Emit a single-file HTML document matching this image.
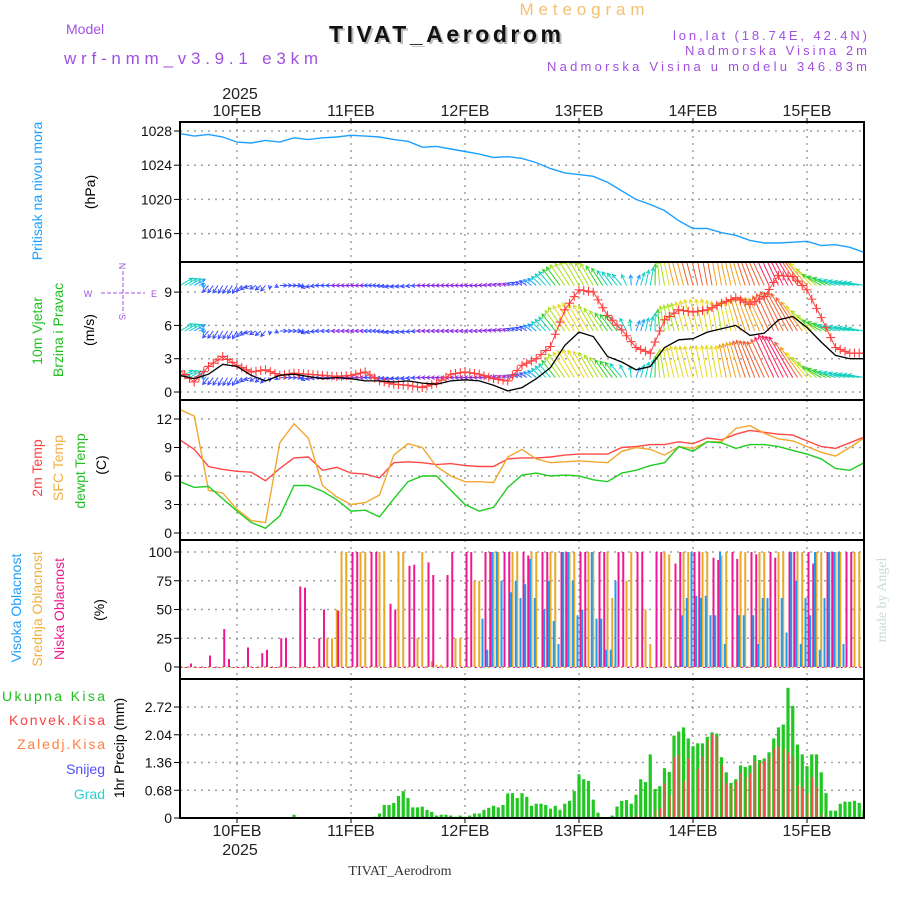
<!DOCTYPE html>
<html><head><meta charset="utf-8"><style>
html,body{margin:0;padding:0;background:#fff;}
svg{display:block;font-family:"Liberation Sans",sans-serif;}
</style></head><body>
<svg id="chart" width="900" height="900" viewBox="0 0 900 900">
<text x="582" y="15" font-size="17" fill="#f5c070" text-anchor="middle" textLength="125">Meteogram</text>
<text x="66" y="34" font-size="14" fill="#a050e0">Model</text>
<text x="64" y="64" font-size="17" fill="#a050e0" textLength="254">wrf-nmm_v3.9.1 e3km</text>
<text x="447" y="44" font-size="23" font-weight="bold" fill="#bbb" text-anchor="middle" textLength="232" font-family="Liberation Sans, sans-serif">TIVAT_Aerodrom</text>
<text x="445" y="42" font-size="23" font-weight="bold" fill="#111" text-anchor="middle" textLength="232">TIVAT_Aerodrom</text>
<text x="867" y="40" font-size="13" fill="#a050e0" text-anchor="end" textLength="194">lon,lat (18.74E, 42.4N)</text>
<text x="867" y="55" font-size="13" fill="#a050e0" text-anchor="end" textLength="182">Nadmorska Visina 2m</text>
<text x="867" y="71" font-size="13" fill="#a050e0" text-anchor="end" textLength="320">Nadmorska Visina u modelu 346.83m</text>
<text x="240" y="99" font-size="16" fill="#222" text-anchor="middle">2025</text>
<text x="240" y="855" font-size="16" fill="#222" text-anchor="middle">2025</text>
<text x="400" y="875" font-size="14" fill="#333" text-anchor="middle" font-family="Liberation Serif, serif">TIVAT_Aerodrom</text>
<text transform="translate(886,600) rotate(-90)" font-size="14" fill="#c8dcd0" text-anchor="middle" font-family="Liberation Serif, serif">made by Angel</text>

<text transform="translate(42,191) rotate(-90)" font-size="14" fill="#1ea0ff" text-anchor="middle">Pritisak na nivou mora</text>
<text transform="translate(95,192) rotate(-90)" font-size="14" fill="#000" text-anchor="middle">(hPa)</text>
<text transform="translate(42,331) rotate(-90)" font-size="14" fill="#22c022" text-anchor="middle">10m Vjetar</text>
<text transform="translate(63,330) rotate(-90)" font-size="14" fill="#22c022" text-anchor="middle">Brzina i Pravac</text>
<text transform="translate(94,330) rotate(-90)" font-size="14" fill="#000" text-anchor="middle">(m/s)</text>
<g fill="#a050e0" stroke="#a050e0" font-size="9">
<line x1="123" y1="271" x2="123" y2="314" stroke-dasharray="4,2"/>
<line x1="101" y1="293" x2="145" y2="293" stroke-dasharray="4,2"/>
<text x="123" y="270" text-anchor="middle" stroke="none" transform="rotate(90,123,266)">N</text>
<text x="123" y="321" text-anchor="middle" stroke="none" transform="rotate(90,123,317)">S</text>
<text x="88" y="297" text-anchor="middle" stroke="none">W</text>
<text x="154" y="297" text-anchor="middle" stroke="none">E</text>
</g>
<text transform="translate(42,468) rotate(-90)" font-size="14" fill="#ff4040" text-anchor="middle">2m Temp</text>
<text transform="translate(63,468) rotate(-90)" font-size="14" fill="#f0b040" text-anchor="middle">SFC Temp</text>
<text transform="translate(85,471) rotate(-90)" font-size="14" fill="#22c022" text-anchor="middle">dewpt Temp</text>
<text transform="translate(106,465) rotate(-90)" font-size="14" fill="#000" text-anchor="middle">(C)</text>
<text transform="translate(21,608) rotate(-90)" font-size="14" fill="#1ea0ff" text-anchor="middle">Visoka Oblacnost</text>
<text transform="translate(42,609) rotate(-90)" font-size="14" fill="#f0b040" text-anchor="middle">Srednja Oblacnost</text>
<text transform="translate(64,609) rotate(-90)" font-size="14" fill="#f01890" text-anchor="middle">Niska Oblacnost</text>
<text transform="translate(104,610) rotate(-90)" font-size="14" fill="#000" text-anchor="middle">(%)</text>
<g font-size="14" text-anchor="end">
<text x="105" y="701" fill="#22c022" textLength="103">Ukupna Kisa</text>
<text x="105" y="725" fill="#ff4040" textLength="96">Konvek.Kisa</text>
<text x="105" y="749" fill="#ff8040" textLength="88">Zaledj.Kisa</text>
<text x="105" y="774" fill="#5050ff">Snijeg</text>
<text x="105" y="799" fill="#30d0d0">Grad</text>
</g>
<text transform="translate(124,748) rotate(-90)" font-size="14" fill="#000" text-anchor="middle">1hr Precip (mm)</text>
<g id="plots"></g>
</svg>
<script>
// ---- data (hours from 9FEB 12:00) ----
const dayLabels = ["10FEB","11FEB","12FEB","13FEB","14FEB","15FEB"];
const pressTicks = [1016,1020,1024,1028];
const windTicks = [0,3,6,9];
const tempTicks = [0,3,6,9,12];
const cloudTicks = [0,25,50,75,100];
const precipTicks = [0,0.68,1.36,2.04,2.72];
// 3-hourly series (49 points)
const pressure = [1027.7,1027.4,1027.6,1027.3,1026.7,1026.6,1026.9,1026.7,1027.2,1027.0,1027.2,1027.3,1027.5,1027.4,1027.3,1027.0,1026.8,1026.1,1026.2,1025.9,1025.6,1025.3,1024.9,1025.0,1024.8,1024.3,1023.6,1023.1,1022.9,1022.7,1022.0,1021.0,1020.0,1019.4,1018.7,1017.5,1016.6,1016.6,1016.1,1015.8,1015.2,1014.9,1014.9,1015.0,1015.1,1014.6,1014.7,1014.4,1013.8];
const temp2m = [9.8,8.8,7.0,6.7,6.5,6.4,5.5,6.8,7.9,8.0,6.6,6.9,6.3,6.2,5.8,7.4,7.5,7.4,7.2,7.3,7.1,7.0,7.0,7.8,7.9,7.9,8.0,8.2,8.3,8.3,8.3,9.0,9.1,9.3,9.3,9.6,9.4,10.0,9.8,10.4,10.8,10.6,10.4,10.3,9.7,9.1,8.9,9.5,10.1];
const tempSfc = [13.0,12.3,4.5,4.2,2.5,1.3,1.1,9.5,11.5,10.0,5.0,3.8,3.0,3.2,4.0,8.2,9.4,9.0,7.0,6.0,5.4,5.4,5.3,8.0,8.8,7.8,7.4,7.5,7.6,7.5,7.4,8.6,9.0,8.8,8.2,9.1,8.9,9.6,9.6,11.0,11.3,10.5,9.9,9.7,9.1,8.5,8.1,9.0,10.0];
const dewpt = [5.4,4.8,4.9,3.6,2.3,1.1,0.5,1.8,5.0,5.0,4.4,3.5,2.3,2.4,1.7,3.6,5.4,6.0,6.0,4.5,3.0,2.3,2.7,4.8,6.1,6.3,6.0,6.1,6.0,5.6,5.4,6.3,6.6,7.1,7.4,9.1,8.6,9.6,9.5,8.9,9.3,9.3,9.1,8.7,8.3,7.8,6.8,6.6,7.4];
const windSpeed = [1.5,1.2,1.6,2.5,2.3,1.5,1.0,1.5,1.6,1.4,1.2,1.3,1.2,1.0,1.0,0.9,1.0,0.8,0.7,1.0,1.1,1.0,0.6,0.1,0.4,1.2,2.2,4.2,5.4,5.0,3.2,2.7,2.0,2.3,4.0,4.7,4.8,5.4,5.7,6.0,5.1,5.3,6.5,6.8,5.8,4.5,3.3,3.0,3.0];
const windGust = [1.9,0.9,2.3,3.2,2.4,1.8,2.0,1.5,1.7,1.6,1.5,1.4,1.5,1.8,1.0,0.7,0.6,0.4,0.8,1.6,1.8,1.6,1.2,1.0,2.4,3.0,4.1,7.4,9.2,9.0,6.9,5.6,4.0,3.5,6.5,7.4,7.2,7.4,8.0,8.5,7.9,8.6,10.5,10.4,9.2,6.7,4.0,3.5,3.5];
const windDir = [30,30,230,240,240,200,230,0,0,200,180,180,180,180,180,190,190,180,180,180,180,180,170,160,150,140,130,125,120,120,125,130,70,80,100,105,105,100,100,105,110,115,115,120,130,150,160,165,170];
const spdTop = [4,3.5,2.5,2.5,2.5,2,2,2,2,2,2,1.5,1.5,1.5,2,2.5,2,1.5,1.5,1.5,1.5,1.5,1.5,1.5,2,3,5,7,8,7,5,4,3,5,8,10,11,11,10,10,11,12,13,13,10,6,5,4.5,4.5];
const spdMid = [4,3.5,2.5,2.5,2.5,2,2,2,2,2,2,1.5,1.5,1.5,2,2.5,2,1.5,1.5,1.5,1.5,1.5,1.5,1.5,2,3,5,8,9,8,6,5,3,4,7,8,9,9,8,9,10,10,12,12,9,6,5,4.5,4.5];
const spdLow = [4,3.5,2.5,2.5,2.5,2,2,2,2,2,2,1.5,1.5,1.5,2,2.5,2,1.5,1.5,1.5,1.5,1.5,1.5,1.5,2,3,5,8,9,8,6,5,3,5,8,9,9,9,9,10,11,11,13,13,9,6,5,4.5,4.5];
const rowBase = [9.6,5.5,1.3];
// hourly series (145 points)
const cloudLow = [0,0,3,0,0,0,10,0,0,33,7,0, 0,0,17,0,0,12,15,0,0,25,25,0, 0,70,69,0,0,25,50,0,0,49,0,0, 100,100,0,0,100,100,0,0,55,50,0,0, 88,89,0,0,91,80,0,0,80,100,0,0, 100,100,0,0,100,100,0,0,100,100,0,0, 100,97,0,0,100,100,0,0,100,100,0,0, 100,100,0,0,100,100,0,0,100,100,0,0, 100,100,0,0,100,100,0,0,90,100,0,0, 100,100,0,0,95,93,0,0,100,94,0,0, 100,98,0,0,100,95,0,0,100,100,0,0, 100,90,0,0,100,100,0,0,100,100,0,0, 100];
const cloudMid = [0,0,0,0,0,0,0,0,0,0,0,0, 0,0,0,0,0,0,0,0,0,0,0,0, 0,0,0,0,0,0,0,25,25,50,100,100, 0,0,100,100,0,0,100,100,0,0,100,100, 0,0,25,100,0,5,2,2,0,0,25,25, 0,0,75,75,0,0,100,100,0,0,100,100, 0,0,100,100,0,0,100,100,0,0,100,100, 0,0,100,100,0,0,100,60,0,0,75,100, 0,0,50,20,0,0,100,98,0,0,100,100, 0,0,100,100,0,0,97,100,0,0,100,100, 0,0,100,100,0,0,100,100,0,0,100,100, 0,0,100,100,0,0,100,100,0,0,100,100, 0];
const cloudHigh = [0,0,0,0,0,0,0,0,0,0,0,0, 0,0,0,0,0,0,0,0,0,0,0,0, 0,0,0,0,0,0,0,0,0,0,0,0, 0,0,0,0,0,0,0,0,0,0,0,0, 0,0,0,0,0,0,0,0,0,0,0,0, 0,0,0,0,42,15,100,100,75,0,65,75, 60,72,94,60,0,50,75,40,20,100,100,75, 45,50,0,100,42,42,15,15,75,0,0,0, 0,0,0,0,0,0,0,0,0,1,45,60, 100,62,60,62,45,45,100,20,0,0,45,45, 0,45,20,60,60,0,0,60,30,100,75,20, 60,45,100,15,60,100,100,100,20,0,0,0, 0];
const precipTotal = [0,0,0,0,0,0,0,0,0,0,0,0, 0,0,0,0,0,0,0,0,0,0,0,0, 0.08,0,0,0,0,0,0,0,0,0,0,0, 0,0,0,0,0.02,0.03,0.11,0.32,0.32,0.37,0.54,0.66, 0.49,0.26,0.26,0.28,0.20,0.15,0.06,0.08,0.08,0.06,0.03,0.06, 0.03,0.06,0.11,0.11,0.20,0.25,0.30,0.26,0.32,0.60,0.61,0.49, 0.61,0.52,0.30,0.35,0.35,0.32,0.23,0.30,0.20,0.35,0.42,0.66, 1.07,0.95,0.91,0.45,0.13,0,0,0.06,0.28,0.42,0.44,0.35, 0.57,0.95,0.88,1.56,0.71,0.78,1.22,1.13,2.02,2.12,2.22,1.95, 1.76,1.83,1.83,1.99,2.10,2.07,1.49,1.12,0.86,0.95,1.29,1.25, 1.29,1.54,1.42,1.46,1.61,1.95,2.22,2.29,3.19,2.75,1.80,1.56, 1.27,1.56,1.56,1.12,0.61,0.18,0.18,0.35,0.40,0.40,0.42,0.37, 0.20];
const precipConv = [0,0,0,0,0,0,0,0,0,0,0,0, 0,0,0,0,0,0,0,0,0,0,0,0, 0,0,0,0,0,0,0,0,0,0,0,0, 0,0,0,0,0,0,0,0,0,0,0,0, 0,0,0,0,0,0,0,0,0,0,0,0, 0,0,0,0,0,0,0,0,0,0,0,0, 0,0,0,0,0,0,0,0,0,0,0,0, 0,0,0,0,0,0,0,0,0,0,0,0, 0.06,0,0,0,0.2,0.25,0.85,0.55,1.5,1.55,0.9,1.45, 0,1.2,1.5,1.9,2.05,2.0,1.3,0.85,0.8,0.9,1.1,1.0, 1.1,1.4,1.35,1.4,1.5,1.7,1.75,1.7,1.6,1.5,0.8,0.75, 0.6,1.0,0.75,0.1,0,0,0,0,0,0,0,0, 0];

// ---- axes ----
const X0 = 180, X1 = 864, HOURS = 144;
const xOf = h => X0 + h * (X1 - X0) / HOURS;
const yP = v => 131 + (1028 - v) * 8.55;
const yW = v => 392 - v * 11.1;
const yT = v => 533 - v * 9.5;
const yC = v => 667 - v * 1.15;
const yR = v => 818 - v * 40.8;
const panels = [[122,262],[262,400],[400,540],[540,679],[679,818]];

const NS = "http://www.w3.org/2000/svg";
const root = document.getElementById("plots");
function mk(tag, attrs, parent) {
  const e = document.createElementNS(NS, tag);
  for (const k in attrs) e.setAttribute(k, attrs[k]);
  (parent || root).appendChild(e);
  return e;
}
function clip(id, top, bot) {
  const c = mk("clipPath", {id: id});
  mk("rect", {x: X0, y: top, width: X1 - X0, height: bot - top}, c);
}
panels.forEach((p, i) => clip("cp" + i, p[0], p[1]));

function grid(ticks, yf, p, name) {
  const g = mk("g", {stroke: "#a0a0a0", "stroke-width": 1.5, "stroke-dasharray": "2,5"});
  
  
  ticks.forEach(t => { const y = yf(t); if (y > p[0] + 2 && y < p[1] - 1) mk("line", {x1: X0, x2: X1, y1: y, y2: y}, g); });
  dayLabels.forEach((d, i) => { const x = xOf(12 + 24 * i); mk("line", {x1: x, x2: x, y1: p[0], y2: p[1]}, g); });
  const lg = mk("g", {"font-size": 14, "text-anchor": "end", fill: "#111"});
  
  
  ticks.forEach(t => {
    const y = yf(t);
    mk("line", {x1: X0 - 6, x2: X0, y1: y, y2: y, stroke: "#000", "stroke-width": 1}, lg);
    const tx = mk("text", {x: X0 - 8, y: y + 5}, lg);
    tx.textContent = String(t);
  });
}
grid(pressTicks, yP, panels[0], "pressure");
grid(windTicks, yW, panels[1], "wind");
grid(tempTicks, yT, panels[2], "temperature");
grid(cloudTicks, yC, panels[3], "cloud");
grid(precipTicks, yR, panels[4], "precip");

const dg = mk("g", {"font-size": 16, fill: "#222", "text-anchor": "middle"});


dayLabels.forEach((d, i) => {
  const x = xOf(12 + 24 * i);
  const t1 = mk("text", {x: x, y: 116}, dg); t1.textContent = d;
  const t2 = mk("text", {x: x, y: 836}, dg); t2.textContent = d;
  mk("line", {x1: x, x2: x, y1: 118, y2: 122, stroke: "#000"}, dg);
  mk("line", {x1: x, x2: x, y1: 818, y2: 823, stroke: "#000"}, dg);
});

function line3h(arr, yf, color, name, cp, w) {
  const pts = arr.map((v, i) => xOf(i * 3).toFixed(1) + "," + yf(v).toFixed(1)).join(" ");
  const pl = mk("polyline", {points: pts, fill: "none", stroke: color, "stroke-width": w || 1.4, "clip-path": "url(#" + cp + ")"});
  
  
  return pl;
}
line3h(pressure, yP, "#1ea0ff", "pressure-line", "cp0");

function spdColor(s) {
  const stops = [[1.5,"#8a2be2"],[2.5,"#3a4cff"],[3.5,"#1a9cff"],[5,"#10d0c0"],[6.5,"#30d030"],[8,"#a8e020"],[9,"#e8d820"],[10.5,"#f0a020"],[12,"#f06030"],[13,"#ff2060"]];
  for (const s0 of stops) if (s <= s0[0]) return s0[1];
  return "#ff2060";
}
const wg = mk("g", {"clip-path": "url(#cp1)", "stroke-width": 1, fill: "none"});


[spdTop, spdMid, spdLow].forEach((spd, r) => {
  const base = yW(rowBase[r]);
  const us = spd.map((s, i) => s * Math.cos(windDir[i] * Math.PI / 180));
  const vs = spd.map((s, i) => s * Math.sin(windDir[i] * Math.PI / 180));
  for (let h = 0; h <= HOURS; h++) {
    const i = Math.floor(h / 3), f = (h % 3) / 3, j = Math.min(i + 1, 48);
    const u = us[i] + (us[j] - us[i]) * f, v = vs[i] + (vs[j] - vs[i]) * f;
    const s = spd[i] + (spd[j] - spd[i]) * f;
    const k = 3.6;
    const x = xOf(h), x2 = x + u * k, y2 = base - v * k;
    const col = spdColor(s);
    const a = mk("path", {d: "", stroke: col}, wg);
    const ang = Math.atan2(-(y2 - base), x2 - x);
    const hl = 4;
    const p1x = x2 - hl * Math.cos(ang - 0.5), p1y = y2 + hl * Math.sin(ang - 0.5);
    const p2x = x2 - hl * Math.cos(ang + 0.5), p2y = y2 + hl * Math.sin(ang + 0.5);
    a.setAttribute("d", `M${x},${base}L${x2},${y2}M${p1x},${p1y}L${x2},${y2}L${p2x},${p2y}`);
    
    
  }
});
line3h(windGust, yW, "#ff4040", "gust-line", "cp1", 1);
const gg = mk("g", {stroke: "#ff4040", "stroke-width": 1.1, "clip-path": "url(#cp1)"});


for (let h = 0; h <= HOURS; h++) {
  const i = Math.floor(h / 3), f = (h % 3) / 3, j = Math.min(i + 1, 48);
  const v = windGust[i] + (windGust[j] - windGust[i]) * f;
  const x = xOf(h), y = yW(v);
  const m = mk("path", {d: `M${x-4.5},${y}H${x+4.5}M${x},${y-4.5}V${y+4.5}`}, gg);
  
  
}
line3h(windSpeed, yW, "#000", "wind-speed-line", "cp1", 1.3);

line3h(temp2m, yT, "#ff4848", "temp-2m-line", "cp2");
line3h(tempSfc, yT, "#f0a830", "temp-sfc-line", "cp2");
line3h(dewpt, yT, "#22cc22", "dewpoint-line", "cp2");

const cg = mk("g", {"clip-path": "url(#cp3)"});


function cbar(v, x, color) {
  const y = yC(v);
  const r = mk("rect", {x: x, y: y, width: 2, height: Math.max(yC(0) - y, 1), fill: color}, cg);
  
  
}
for (let h = 0; h <= HOURS; h++) {
  const x = xOf(h);
  cbar(cloudMid[h], x - 1, "#eaa828");
  cbar(cloudLow[h], x + 0.5, "#f01890");
  if (cloudHigh[h] > 0) cbar(cloudHigh[h], x - 2.5, "#1e9cf0");
}

const pg = mk("g", {"clip-path": "url(#cp4)"});


for (let h = 0; h <= HOURS; h++) {
  const x = xOf(h);
  if (precipTotal[h] > 0) {
    const y = yR(precipTotal[h]);
    const b = mk("rect", {x: x - 1.6, y: y, width: 3.2, height: yR(0) - y, fill: "#22c822"}, pg);
    
    
  }
  if (precipConv[h] > 0) {
    const y = yR(precipConv[h]);
    const b = mk("rect", {x: x - 0.2, y: y, width: 1.6, height: yR(0) - y, fill: "#ff4848"}, pg);
    
    
  }
}

panels.forEach((p, i) => {
  const f = mk("rect", {x: X0, y: p[0], width: X1 - X0, height: p[1] - p[0], fill: "none", stroke: "#000", "stroke-width": 2});
  
  
});
</script>
</body></html>
